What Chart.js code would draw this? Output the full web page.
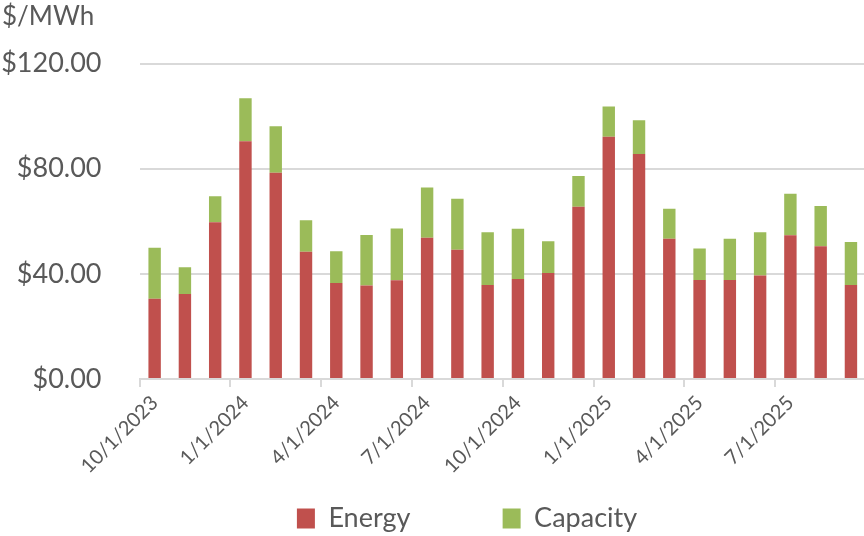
<!DOCTYPE html>
<html>
<head>
<meta charset="utf-8">
<script src="https://cdn.jsdelivr.net/npm/chart.js@4/dist/chart.umd.min.js"></script>
<style>
  html, body { margin: 0; padding: 0; overflow: hidden; background: #fff; }
  #wrap { width: 872px; height: 542px; }
</style>
</head>
<body>
<div id="wrap"><canvas id="costChart"></canvas></div>
<script>
// monthly cost per MWh, split into energy and capacity parts
var months = ['10/1/2023', '11/1/2023', '12/1/2023', '1/1/2024', '2/1/2024', '3/1/2024',
              '4/1/2024', '5/1/2024', '6/1/2024', '7/1/2024', '8/1/2024', '9/1/2024',
              '10/1/2024', '11/1/2024', '12/1/2024', '1/1/2025', '2/1/2025', '3/1/2025',
              '4/1/2025', '5/1/2025', '6/1/2025', '7/1/2025', '8/1/2025', '9/1/2025'];
var energy = [30.5, 32.3, 59.6, 90.4, 78.4, 48.4, 36.5, 35.6, 37.6, 53.7, 49.2, 35.8,
              38.0, 40.3, 65.5, 92.1, 85.6, 53.3, 37.7, 37.7, 39.4, 54.7, 50.5, 35.8];
var capacity = [19.4, 10.2, 9.9, 16.4, 17.7, 12.0, 12.1, 19.2, 19.6, 19.1, 19.4, 20.0,
                19.1, 12.1, 11.7, 11.5, 12.8, 11.5, 11.9, 15.6, 16.4, 15.8, 15.3, 16.3];
var yTicks = [0, 40, 80, 120];

var textColor = '#595959';
var lineColor = '#d9d9d9';
var fontName = 'Lato, "DejaVu Sans", sans-serif';
var legendPad = 30;

// nudge the legend row to the right a bit
var legendShift = {
  id: 'legendShift',
  afterLayout: function(chart) {
    chart.legend.left += 32;
    chart.legend.right += 32;
  }
};

const ctx = document.getElementById('costChart').getContext('2d');
var costChart = new Chart(ctx, {
  type: 'bar',
  data: {
    labels: months,
    datasets: [
      {
        label: 'Energy',
        data: energy,
        backgroundColor: '#C0504D',
        barPercentage: 0.41,
        categoryPercentage: 1
      },
      {
        label: 'Capacity',
        data: capacity,
        backgroundColor: '#9BBB59',
        barPercentage: 0.41,
        categoryPercentage: 1
      }
    ]
  },
  options: {
    responsive: true,
    maintainAspectRatio: false,
    animation: false,
    layout: {
      padding: { left: 2, right: 4, top: 0, bottom: 0 }
    },
    scales: {
      x: {
        stacked: true,
        border: { color: lineColor, width: 2 },
        grid: {
          offset: true,
          drawOnChartArea: false,
          tickLength: 8,
          lineWidth: 2,
          color: function(c) { return c.index % 3 === 0 ? lineColor : 'rgba(0,0,0,0)'; }
        },
        ticks: {
          autoSkip: false,
          maxRotation: 45,
          minRotation: 45,
          padding: 4,
          color: textColor,
          font: { family: fontName, size: 20 },
          callback: function(value, index) {
            return index % 3 === 0 ? months[index] : '';
          }
        },
        afterFit: function(scale) {
          // keeps the plot bottom on the $0 line position
          scale.height = 542 - 379 - (37 + legendPad);
        }
      },
      y: {
        stacked: true,
        min: 0,
        max: 120,
        border: { display: false },
        grid: {
          color: lineColor,
          lineWidth: 2,
          drawTicks: false
        },
        afterBuildTicks: function(scale) {
          scale.ticks = yTicks.map(function(v) { return { value: v }; });
        },
        ticks: {
          padding: 38,
          color: textColor,
          font: { family: fontName, size: 27 },
          callback: function(value) {
            return '$' + value.toFixed(2);
          }
        },
        afterFit: function(scale) {
          scale.width = 137.5;
        }
      }
    },
    plugins: {
      title: {
        display: true,
        text: '$/MWh',
        align: 'start',
        color: textColor,
        font: { family: fontName, size: 26, weight: 'normal' },
        padding: { top: 1, bottom: 31.3 }
      },
      legend: {
        position: 'bottom',
        labels: {
          boxWidth: 18,
          boxHeight: 20,
          padding: legendPad,
          color: textColor,
          font: { family: fontName, size: 27 },
          generateLabels: function(chart) {
            var items = Chart.defaults.plugins.legend.labels.generateLabels(chart);
            // wider spacing between the two entries
            items[0].text = items[0].text + '         ';
            return items;
          }
        }
      },
      tooltip: { enabled: false }
    }
  },
  plugins: [legendShift]
});
</script>
</body>
</html>
